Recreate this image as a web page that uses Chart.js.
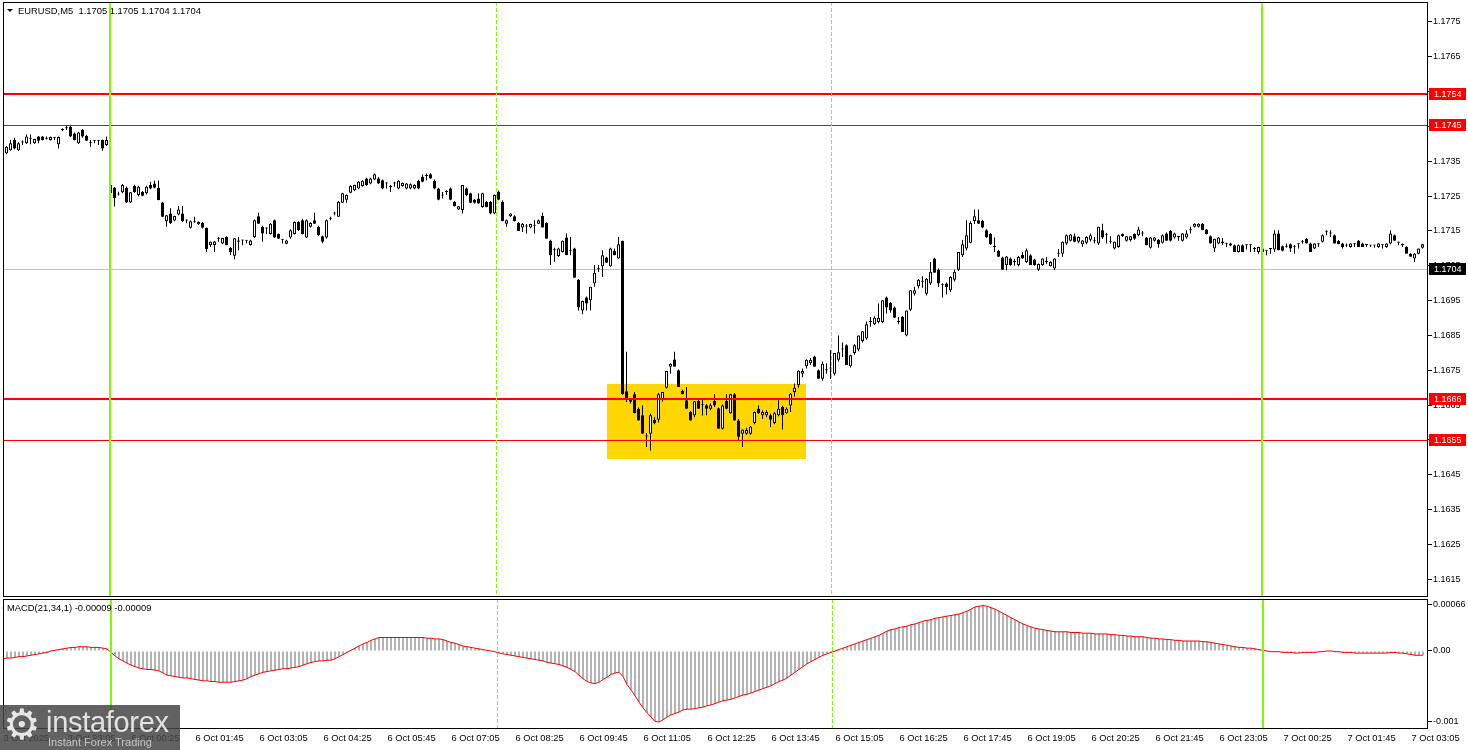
<!DOCTYPE html>
<html>
<head>
<meta charset="utf-8">
<script src="https://cdn.jsdelivr.net/npm/chart.js@4.4.1/dist/chart.umd.min.js"></script>
<style>
html, body { margin: 0; padding: 0; background: #fff; overflow: hidden; }
#wrap { position: relative; width: 1468px; height: 750px; }
canvas { position: absolute; left: 0; }
#priceChart { top: 0; }
#macdChart { top: 599px; }
#logo { position: absolute; left: 0; top: 705px; width: 180px; height: 45px; background: rgba(70,70,70,0.85); overflow: hidden; }
#logo .gear { position: absolute; left: 3px; top: -5px; font: 42px 'DejaVu Sans'; color: #e6e6e6; }
#logo .brand { position: absolute; left: 46px; top: 1px; font: 29px 'Liberation Sans'; color: #e2e2e2; letter-spacing: -0.3px; }
#logo .tag { position: absolute; left: 48px; top: 31px; font: 11px 'Liberation Sans'; color: #c4c4c4; }
</style>
</head>
<body>
<div id="wrap">
  <canvas id="priceChart" width="1468" height="599"></canvas>
  <canvas id="macdChart" width="1468" height="151"></canvas>
  <div id="logo"><span class="gear">⚙</span><span class="brand">instaforex</span><span class="tag">Instant Forex Trading</span></div>
</div>
<script>
// EURUSD M5, prices kept in pips above 1.1600
const BASE = 1.16;

const opens = [
  139.0,137.3,138.2,141.1,138.2,140.4,140.2,141.5,140.2,142.1,
  142.1,141.5,141.1,141.8,139.9,144.0,144.5,144.9,143.0,140.2,
  144.0,142.3,140.3,140.9,140.9,141.1,139.7,128.2,127.4,125.5,
  126.1,127.4,123.2,128.0,125.3,126.3,125.8,128.2,128.6,127.4,
  123.2,117.8,120.0,118.0,119.7,120.0,118.0,115.9,117.5,116.9,
  117.4,115.9,111.0,111.0,112.8,111.4,113.3,110.2,107.9,112.3,
  112.3,112.2,111.0,113.3,119.2,116.2,115.7,114.1,118.1,114.1,
  112.5,111.3,113.1,114.1,117.6,118.1,113.1,116.2,118.1,116.2,
  113.5,113.1,118.5,120.0,119.1,123.1,124.0,126.0,126.7,127.2,
  127.9,130.1,128.6,129.8,130.1,129.6,128.6,127.6,128.6,127.2,
  127.9,127.2,127.2,127.2,129.4,130.6,130.8,131.3,129.4,127.2,
  125.2,126.2,127.2,123.4,121.2,121.0,127.2,125.8,124.0,124.3,
  121.9,123.4,123.4,120.0,126.2,123.4,117.1,119.2,119.2,117.3,
  116.0,116.3,116.0,116.5,117.1,119.3,117.3,112.2,109.5,107.8,
  109.0,113.1,109.3,110.0,101.0,92.2,95.9,95.1,99.9,104.0,
  104.9,107.4,104.9,109.3,107.1,112.1,69.0,66.5,68.1,64.0,
  62.1,56.0,56.8,60.8,60.8,66.8,70.0,76.0,78.1,75.0,
  69.1,66.4,63.0,62.1,66.2,65.0,65.0,64.0,66.2,64.1,
  58.2,66.2,62.7,68.1,60.6,56.8,56.8,56.8,59.9,64.0,
  62.1,62.1,62.1,59.9,62.1,64.5,62.7,64.9,68.8,70.7,
  74.0,76.2,77.0,79.0,75.0,72.6,75.0,75.5,74.0,78.0,
  81.0,82.2,76.2,80.0,81.0,83.4,84.1,88.9,88.2,88.9,
  88.9,95.9,94.3,93.0,88.9,90.3,85.0,92.4,97.0,99.1,
  100.4,97.0,99.9,107.1,103.9,99.4,99.9,98.0,101.0,103.9,
  108.0,110.0,111.6,117.9,118.1,117.9,115.2,114.1,110.4,109.3,
  107.4,105.2,107.1,106.1,105.2,108.2,106.1,108.0,106.8,103.9,
  105.2,106.1,104.9,104.2,108.5,108.5,111.4,112.2,113.5,111.9,
  111.2,111.6,112.5,112.2,111.4,115.2,113.8,111.9,110.0,110.4,
  114.1,112.2,112.4,114.1,113.8,114.3,113.1,110.2,112.2,112.4,
  111.6,114.3,115.0,113.1,113.3,112.2,113.1,115.2,116.2,116.2,
  117.1,115.4,113.5,110.0,111.4,112.0,111.4,111.4,110.9,109.0,
  110.9,110.9,110.9,109.8,109.0,110.0,109.3,109.8,109.7,114.3,
  110.6,110.5,111.2,110.5,111.2,111.8,112.8,111.4,110.0,111.2,
  111.9,114.8,114.3,113.8,112.2,111.4,110.8,110.4,111.2,112.2,
  111.4,111.0,110.8,110.8,110.4,110.9,110.4,111.4,113.8,111.6,
  111.0,110.4,108.5,107.1,108.5,110.2
];
const highs = [
  139.2,139.4,141.1,141.8,140.5,141.0,142.7,142.7,141.5,142.3,
  142.3,142.1,142.1,142.0,142.1,144.5,145.3,145.5,143.3,143.5,
  144.3,142.6,141.1,141.1,141.1,141.3,142.1,128.5,127.6,126.3,
  128.5,127.8,126.2,128.3,128.0,126.5,128.0,129.1,129.5,129.5,
  123.4,119.6,121.5,119.4,122.2,122.2,118.3,118.0,119.1,117.8,
  117.6,116.0,112.0,112.1,113.3,113.0,113.5,110.4,113.0,113.3,
  112.5,112.4,112.5,118.3,120.2,116.5,116.0,117.3,118.3,114.3,
  112.7,112.5,115.5,117.8,117.8,118.5,118.3,117.5,120.2,116.5,
  113.7,118.3,119.1,120.5,123.6,126.0,125.5,128.1,128.3,129.3,
  129.6,130.3,130.3,131.5,130.5,129.8,129.0,128.2,129.1,129.6,
  128.9,128.8,128.6,128.4,129.7,131.2,131.5,131.6,129.8,127.4,
  126.2,126.7,127.5,123.6,122.1,128.2,127.5,126.0,124.2,125.8,
  126.0,123.6,123.6,125.5,126.6,123.8,118.3,120.1,119.5,117.6,
  117.3,117.0,117.1,118.1,118.3,120.2,117.5,112.5,110.2,110.2,
  112.3,114.3,113.3,110.2,101.2,95.0,96.2,99.0,105.2,105.2,
  109.5,107.6,110.2,110.0,113.3,112.3,80.3,67.0,68.8,64.3,
  65.0,57.0,62.5,61.5,68.5,68.8,74.9,77.0,80.3,75.2,
  69.4,70.2,63.3,66.2,66.5,66.5,65.3,65.5,68.1,64.3,
  65.2,68.1,68.3,68.5,61.0,58.0,58.5,59.0,63.2,65.0,
  63.5,63.5,62.5,63.0,66.4,64.8,64.3,68.5,71.2,75.0,
  75.5,78.2,78.5,79.2,75.2,77.5,77.0,80.8,80.0,85.0,
  83.0,82.5,79.5,82.5,85.0,86.3,89.0,90.3,90.5,94.2,
  95.2,96.2,94.6,93.3,90.3,90.6,92.2,98.0,99.0,101.2,
  102.0,101.5,106.1,107.3,104.2,100.0,100.2,102.0,103.9,109.0,
  112.4,118.1,117.8,121.2,121.2,118.2,115.5,114.4,113.1,109.6,
  107.6,107.8,107.4,107.0,107.8,109.0,110.0,108.3,107.0,105.7,
  107.2,107.5,106.3,107.2,109.8,112.0,114.0,114.1,114.3,113.4,
  112.4,113.5,114.3,113.3,116.2,117.1,114.5,113.5,112.0,114.0,
  114.3,113.5,113.5,114.3,116.2,115.0,113.3,113.3,113.3,112.7,
  114.0,114.6,115.3,114.5,113.5,114.4,115.2,116.2,117.2,117.2,
  117.3,115.6,113.7,112.8,113.3,113.0,111.6,111.6,111.1,111.1,
  111.1,111.2,111.1,110.4,110.5,110.3,109.5,110.0,115.2,115.2,
  110.8,111.4,111.4,111.0,111.4,112.4,113.0,111.6,111.5,111.4,
  114.0,115.2,115.2,114.0,112.4,111.6,111.4,111.5,111.4,112.4,
  111.6,111.2,111.0,111.0,111.5,111.1,111.5,115.2,114.0,112.0,
  111.4,110.6,108.7,108.7,110.0,111.3
];
const lows = [
  138.0,137.0,138.0,138.5,138.0,139.7,140.0,139.9,140.0,140.2,
  141.0,141.3,141.0,141.1,138.7,143.7,144.0,142.0,141.0,140.0,
  141.8,140.8,139.2,140.2,139.7,138.0,139.4,125.5,122.0,125.2,
  125.8,123.0,123.0,126.0,125.0,125.0,125.5,127.0,127.3,123.8,
  119.0,116.2,117.0,117.8,119.5,117.6,117.2,115.7,117.4,116.7,
  115.7,109.0,110.5,109.0,111.9,111.2,110.9,108.1,106.9,109.5,
  110.9,111.4,110.8,113.0,117.0,111.9,114.1,114.0,113.0,112.7,
  111.4,111.2,112.8,114.0,115.0,114.0,113.0,116.0,117.0,113.6,
  111.5,112.8,118.1,119.5,119.0,123.0,123.1,125.8,126.5,127.0,
  127.7,128.0,128.4,129.6,128.5,127.0,127.2,126.2,127.7,127.0,
  127.7,127.0,127.0,127.0,127.0,129.0,129.6,130.0,127.0,123.8,
  124.3,125.3,123.8,122.0,121.0,120.0,125.0,123.0,122.9,122.8,
  121.7,121.8,119.8,119.8,123.8,117.8,116.2,119.0,117.7,115.0,
  114.7,114.3,115.8,114.3,117.0,116.0,112.8,105.2,106.2,107.5,
  108.8,108.0,108.0,101.5,92.2,91.1,92.2,92.2,99.0,103.2,
  101.8,105.8,104.7,108.0,107.0,68.0,65.9,65.5,62.7,60.6,
  56.8,53.0,52.0,59.5,60.0,66.0,69.8,74.0,76.0,70.2,
  68.1,64.0,60.6,61.5,64.0,62.0,62.1,63.5,64.5,58.2,
  58.0,63.8,62.5,60.6,54.9,53.0,56.5,56.5,59.5,62.5,
  61.0,61.5,58.7,59.5,61.8,58.0,62.5,63.0,67.5,70.0,
  73.0,75.5,76.5,76.0,72.5,72.0,74.0,72.5,73.5,77.5,
  78.8,76.5,75.8,79.5,80.5,83.0,83.8,87.5,88.0,88.5,
  88.5,91.3,91.5,90.0,88.2,86.0,84.8,92.0,96.5,98.5,
  98.7,96.5,99.5,103.0,98.9,95.9,96.8,97.5,100.5,103.5,
  107.5,109.5,111.5,117.0,117.0,115.8,113.0,111.0,109.0,107.5,
  103.9,103.7,105.0,105.0,104.8,107.0,105.8,105.2,105.0,103.5,
  105.0,105.5,104.8,103.7,107.5,107.6,111.0,112.0,111.8,111.5,
  110.5,111.2,112.0,111.4,111.0,112.8,111.4,111.4,109.7,110.2,
  113.3,112.0,112.0,112.5,113.5,113.5,110.9,110.0,112.0,110.2,
  111.4,112.2,112.0,112.8,112.2,112.0,112.8,114.3,116.0,116.0,
  115.2,114.0,111.4,109.0,111.2,111.0,110.4,110.7,109.0,108.8,
  109.0,109.7,109.0,109.0,108.5,109.0,108.0,108.5,109.0,109.5,
  109.2,110.2,109.0,108.5,110.0,111.3,111.4,109.0,109.8,110.4,
  111.7,113.8,113.3,111.4,111.2,110.0,110.4,110.2,110.4,110.4,
  110.4,110.4,110.4,110.2,110.2,110.0,110.2,111.2,112.2,110.9,
  110.4,108.5,107.6,106.1,108.3,110.0
];
const closes = [
  138.3,139.2,140.2,138.7,140.2,140.5,142.1,141.6,141.4,140.9,
  141.1,141.6,142.0,141.9,142.0,144.1,144.6,142.1,141.1,143.3,
  142.1,140.9,140.4,141.0,140.9,138.7,141.1,125.8,124.4,125.6,
  128.2,123.2,126.1,126.1,127.7,125.1,127.7,127.2,127.4,123.9,
  119.1,119.5,117.2,119.3,121.2,117.8,118.1,117.8,117.6,117.6,
  115.9,109.8,111.9,112.0,112.9,113.0,111.0,109.0,112.9,111.9,
  112.3,112.3,112.3,118.1,117.1,114.3,115.7,117.1,113.1,112.8,
  112.5,112.3,115.2,117.6,115.2,114.1,118.1,117.3,117.1,113.8,
  111.9,118.1,118.6,120.1,123.4,125.8,125.3,127.9,128.2,129.1,
  129.4,128.2,130.1,131.3,128.6,127.2,128.6,127.6,128.6,129.4,
  128.8,128.6,128.4,128.2,127.2,129.1,130.8,130.1,127.2,124.0,
  125.2,126.2,124.0,122.1,122.1,128.2,125.3,123.1,123.1,122.9,
  125.8,121.9,120.0,125.3,124.0,117.9,118.1,120.0,117.9,115.0,
  117.1,116.3,117.0,116.5,118.1,116.0,112.8,108.0,109.5,110.0,
  112.2,108.1,109.3,101.6,93.0,94.9,94.2,99.0,103.0,104.0,
  108.0,105.9,110.0,108.0,111.2,68.2,66.9,66.0,62.7,60.6,
  56.8,56.0,62.1,59.8,68.1,68.8,74.8,76.9,76.0,70.2,
  68.1,64.0,60.6,66.1,64.0,65.0,64.0,65.0,64.9,58.2,
  64.9,64.0,68.1,60.6,55.9,58.0,57.9,58.9,63.0,62.7,
  63.0,63.0,60.8,62.7,64.0,62.1,64.0,68.3,70.0,74.9,
  74.8,78.0,78.0,76.0,72.6,76.9,75.0,75.5,80.0,80.2,
  81.0,76.5,79.3,82.2,85.0,86.2,88.2,88.9,90.1,90.1,
  95.1,93.0,92.2,90.1,88.9,86.0,92.2,98.0,98.0,101.0,
  100.4,101.3,103.3,103.0,99.9,99.4,98.9,101.8,103.3,109.0,
  111.2,113.8,117.3,119.2,117.1,116.0,113.3,111.2,110.4,107.6,
  103.9,107.7,105.2,106.1,107.5,107.1,109.5,105.2,105.2,105.5,
  107.1,106.1,106.1,107.1,108.5,111.9,113.8,114.0,111.9,113.3,
  112.3,113.3,113.8,112.2,116.2,113.1,113.8,111.9,111.9,113.8,
  113.5,113.5,113.5,112.8,115.4,114.3,110.9,113.1,113.1,111.2,
  113.8,112.2,112.2,114.3,113.3,114.3,114.3,115.2,117.1,117.1,
  115.2,114.1,111.4,112.8,113.1,111.5,111.3,110.8,109.0,110.9,
  109.0,110.9,110.9,109.8,110.4,109.0,109.3,109.8,114.3,109.5,
  109.3,110.5,110.0,110.5,111.2,111.8,111.4,109.0,111.4,111.2,
  113.8,114.8,114.3,111.4,111.2,110.4,110.8,111.4,111.2,110.4,
  110.4,111.0,110.8,110.8,111.4,110.9,111.4,114.3,112.2,111.6,
  111.0,108.5,107.6,108.5,110.0,111.2
];

// MACD(21,34,1) main value per bar, in units of 0.00001
const macd = [
  -11,-10,-10,-9,-8,-8,-7,-6,-5,-4,
  -3,-2,0,1,2,3,4,5,5,6,
  6,6,5,5,5,4,3,-2,-7,-11,
  -14,-17,-20,-22,-24,-25,-26,-26,-27,-28,
  -31,-34,-35,-36,-37,-38,-38,-39,-40,-41,
  -42,-42,-43,-43,-44,-44,-44,-44,-43,-42,
  -41,-39,-36,-34,-32,-30,-29,-28,-27,-26,
  -25,-25,-24,-23,-22,-20,-18,-16,-15,-14,
  -14,-13,-13,-11,-8,-5,-2,1,4,7,
  10,12,15,17,19,19,19,19,19,19,
  19,19,19,19,19,19,18,18,17,17,
  16,14,12,11,9,7,6,5,4,3,
  2,1,0,-1,-3,-4,-5,-6,-7,-8,
  -9,-10,-11,-12,-13,-14,-16,-17,-18,-19,
  -21,-23,-26,-29,-34,-39,-43,-45,-46,-44,
  -40,-37,-33,-31,-30,-36,-47,-55,-63,-72,
  -80,-87,-93,-99,-100,-97,-93,-90,-88,-86,
  -83,-82,-82,-81,-80,-79,-77,-76,-74,-72,
  -70,-69,-68,-66,-64,-62,-61,-59,-57,-55,
  -53,-51,-49,-46,-43,-41,-38,-34,-30,-26,
  -22,-18,-15,-12,-9,-6,-4,-2,0,2,
  4,6,8,10,12,14,16,18,20,22,
  25,28,30,31,33,34,35,37,38,40,
  42,43,44,46,47,48,49,50,51,52,
  54,56,59,62,63,64,63,61,59,56,
  53,50,47,44,41,38,36,34,32,31,
  30,29,28,27,27,27,27,26,26,26,
  25,25,25,24,24,24,24,23,23,22,
  22,21,21,20,20,20,19,18,18,17,
  17,16,16,15,15,14,14,14,14,14,
  13,13,12,11,10,9,8,7,6,5,
  5,4,4,3,2,1,0,-1,-1,-1,
  -2,-2,-2,-3,-3,-2,-2,-2,-2,-1,
  -1,0,0,-1,-1,-2,-2,-2,-3,-3,
  -3,-3,-3,-3,-3,-3,-3,-2,-2,-3,
  -3,-4,-5,-6,-6,-6
];

// time axis labels, one every 16 bars starting at bar 0
const timeLabels = ['3 Oct 2025','3 Oct 23:05','6 Oct 00:25','6 Oct 01:45','6 Oct 03:05','6 Oct 04:25',
  '6 Oct 05:45','6 Oct 07:05','6 Oct 08:25','6 Oct 09:45','6 Oct 11:05','6 Oct 12:25','6 Oct 13:45',
  '6 Oct 15:05','6 Oct 16:25','6 Oct 17:45','6 Oct 19:05','6 Oct 20:25','6 Oct 21:45','6 Oct 23:05',
  '7 Oct 00:25','7 Oct 01:45','7 Oct 03:05'];
const labelEvery = 16;

const priceTicks = [1.1615,1.1625,1.1635,1.1645,1.1655,1.1665,1.1675,1.1685,1.1695,1.1705,
  1.1715,1.1725,1.1735,1.1745,1.1755,1.1765,1.1775];
const macdTicks = [0.00066, 0, -0.001];
const macdTickLabels = ['0.00066', '0.00', '-0.001'];

// horizontal levels and markers
const thickLevels = [1.17542, 1.16667];
const thinLevels = [1.17453, 1.1655];
const levelLabels = ['1.1754', '1.1666', '1.1745', '1.1655'];
const bidPrice = 1.1704;
const dayLines = [27, 315];        // midnight bars
const sessionLines = [123.5, 207.25];
const zone = { from: 151.1, to: 200.9, top: 1.16711, bottom: 1.16496 };

const X_MIN = 0.125, X_MAX = 356.375;
const Y_MIN = 1.160992, Y_MAX = 1.178074;

const toPrice = p => +(BASE + p / 10000).toFixed(5);
const bodyData = opens.map((o, i) => ({ x: i, y: [toPrice(o), toPrice(closes[i])] }));
const wickData = highs.map((h, i) => ({ x: i, y: [toPrice(lows[i]), toPrice(h)] }));
const bodyColors = opens.map((o, i) => closes[i] >= o ? '#ffffff' : '#000000');
const macdData = macd.map((v, i) => ({ x: i, y: v / 100000 }));

Chart.defaults.font.family = "'Liberation Sans', Arial, sans-serif";
Chart.defaults.font.size = 9;
Chart.defaults.color = '#000';

const noPad = s => { s.paddingTop = 0; s.paddingBottom = 0; s.paddingLeft = 0; s.paddingRight = 0; };

function drawVerticals(chart) {
  const { ctx, chartArea: a, scales: { x } } = chart;
  ctx.save();
  ctx.fillStyle = '#7CFC00';
  dayLines.forEach(b => {
    const xx = Math.floor(x.getPixelForValue(b));
    ctx.fillRect(xx - 1, a.top, 2, a.bottom - a.top);
  });
  ctx.strokeStyle = '#7CFC00';
  ctx.lineWidth = 1;
  ctx.setLineDash([4, 2]);
  sessionLines.forEach(b => {
    const xx = Math.floor(x.getPixelForValue(b)) + 0.5;
    ctx.beginPath();
    ctx.moveTo(xx, a.top);
    ctx.lineTo(xx, a.bottom);
    ctx.stroke();
  });
  ctx.restore();
}

function drawFrame(chart) {
  const { ctx, chartArea: a } = chart;
  ctx.save();
  ctx.strokeStyle = '#000';
  ctx.lineWidth = 1;
  ctx.strokeRect(Math.round(a.left) + 0.5, Math.round(a.top) + 0.5,
    Math.round(a.right - a.left) - 1, Math.round(a.bottom - a.top) - 1);
  ctx.restore();
}

function priceBox(chart, value, text, color) {
  const { ctx, chartArea: a, scales: { y } } = chart;
  const yy = Math.round(y.getPixelForValue(value));
  ctx.fillStyle = color;
  ctx.fillRect(a.right + 1, yy - 6, 37, 12);
  ctx.fillStyle = '#fff';
  ctx.font = "9px 'Liberation Sans'";
  ctx.textBaseline = 'middle';
  ctx.textAlign = 'left';
  ctx.fillText(text, a.right + 6, yy + 0.5);
}

const pricePlugin = {
  id: 'priceDecor',
  beforeDatasetsDraw(chart) {
    const { ctx, chartArea: a, scales: { x, y } } = chart;
    ctx.save();
    const x1 = x.getPixelForValue(zone.from), x2 = x.getPixelForValue(zone.to);
    const y1 = y.getPixelForValue(zone.top), y2 = y.getPixelForValue(zone.bottom);
    ctx.fillStyle = '#FFD700';
    ctx.fillRect(Math.round(x1), Math.round(y1), Math.round(x2 - x1), Math.round(y2 - y1));
    const by = Math.round(y.getPixelForValue(bidPrice)) + 0.5;
    ctx.strokeStyle = '#C0C0C0';
    ctx.lineWidth = 1;
    ctx.beginPath();
    ctx.moveTo(a.left, by);
    ctx.lineTo(a.right, by);
    ctx.stroke();
    ctx.restore();
  },
  afterDatasetsDraw(chart) {
    const { ctx, chartArea: a, scales: { y } } = chart;
    ctx.save();
    ctx.fillStyle = '#FF0000';
    thickLevels.forEach(v => {
      const yy = Math.round(y.getPixelForValue(v));
      ctx.fillRect(a.left, yy - 1, a.right - a.left, 2);
    });
    thinLevels.forEach(v => {
      const yy = Math.round(y.getPixelForValue(v));
      ctx.fillRect(a.left, yy, a.right - a.left, 1);
    });
    ctx.restore();
    drawVerticals(chart);
  },
  afterDraw(chart) {
    const { ctx } = chart;
    drawFrame(chart);
    ctx.save();
    priceBox(chart, thickLevels[0], levelLabels[0], '#FF0000');
    priceBox(chart, thinLevels[0], levelLabels[2], '#FF0000');
    priceBox(chart, thickLevels[1], levelLabels[1], '#FF0000');
    priceBox(chart, thinLevels[1], levelLabels[3], '#FF0000');
    priceBox(chart, bidPrice, bidPrice.toFixed(4), '#000000');
    ctx.fillStyle = '#000';
    ctx.beginPath();
    ctx.moveTo(7, 9); ctx.lineTo(13, 9); ctx.lineTo(10, 12); ctx.closePath();
    ctx.fill();
    ctx.font = "9.4px 'Liberation Sans'";
    ctx.textBaseline = 'middle';
    ctx.textAlign = 'left';
    ctx.fillText('EURUSD,M5  1.1705 1.1705 1.1704 1.1704', 18, 11);
    ctx.restore();
  }
};

const macdPlugin = {
  id: 'macdDecor',
  afterDatasetsDraw(chart) { drawVerticals(chart); },
  afterDraw(chart) {
    const { ctx } = chart;
    drawFrame(chart);
    ctx.save();
    ctx.fillStyle = '#000';
    ctx.font = "9.4px 'Liberation Sans'";
    ctx.textBaseline = 'middle';
    ctx.textAlign = 'left';
    ctx.fillText('MACD(21,34,1) -0.00009 -0.00009', 7, 9);
    ctx.restore();
  }
};

new Chart(document.getElementById('priceChart'), {
  type: 'bar',
  data: {
    datasets: [
      { data: bodyData, backgroundColor: bodyColors, borderColor: '#000', borderWidth: 1,
        borderSkipped: false, barThickness: 3, minBarLength: 1, grouped: false, inflateAmount: 0 },
      { data: wickData, backgroundColor: '#000', borderWidth: 0, barThickness: 1,
        grouped: false, inflateAmount: 0 }
    ]
  },
  options: {
    responsive: false,
    animation: false,
    devicePixelRatio: 1,
    events: [],
    layout: { padding: { left: 3, top: 2, bottom: 2, right: 0 } },
    plugins: { legend: { display: false }, tooltip: { enabled: false } },
    scales: {
      x: { type: 'linear', min: X_MIN, max: X_MAX, offset: false, display: false },
      y: {
        position: 'right',
        min: Y_MIN, max: Y_MAX,
        afterBuildTicks: s => { s.ticks = priceTicks.map(v => ({ value: v })); },
        afterFit: s => { s.width = 40; noPad(s); },
        ticks: { callback: v => v.toFixed(4), padding: 1 },
        grid: { drawOnChartArea: false, tickLength: 4, color: '#000' },
        border: { display: false }
      }
    }
  },
  plugins: [pricePlugin]
});

new Chart(document.getElementById('macdChart'), {
  type: 'bar',
  data: {
    datasets: [
      { type: 'line', data: macdData, borderColor: '#FF0000', borderWidth: 1, pointRadius: 0, tension: 0 },
      { data: macdData, backgroundColor: '#B4B4B4', borderWidth: 0, barThickness: 2, grouped: false, inflateAmount: 0 }
    ]
  },
  options: {
    responsive: false,
    animation: false,
    devicePixelRatio: 1,
    events: [],
    layout: { padding: { left: 3, top: 0, bottom: 0, right: 0 } },
    plugins: { legend: { display: false }, tooltip: { enabled: false } },
    scales: {
      x: {
        type: 'linear', min: X_MIN - 0.125, max: X_MAX - 0.125, offset: false,
        afterBuildTicks: s => { s.ticks = timeLabels.map((t, k) => ({ value: k * labelEvery + 0.125 })); },
        afterFit: s => { s.height = 21; noPad(s); },
        ticks: { callback: (v, i) => timeLabels[i], align: 'start', autoSkip: false, maxRotation: 0, minRotation: 0, padding: 4, font: { size: 9.3 } },
        grid: { display: false, drawTicks: false },
        border: { display: false }
      },
      y: {
        position: 'right',
        min: -0.0010986, max: 0.000732,
        afterBuildTicks: s => { s.ticks = macdTicks.map(v => ({ value: v })); },
        afterFit: s => { s.width = 40; noPad(s); },
        ticks: { callback: (v, i) => macdTickLabels[i], padding: 1 },
        grid: { drawOnChartArea: false, tickLength: 4, color: '#000' },
        border: { display: false }
      }
    }
  },
  plugins: [macdPlugin]
});
</script>
</body>
</html>
